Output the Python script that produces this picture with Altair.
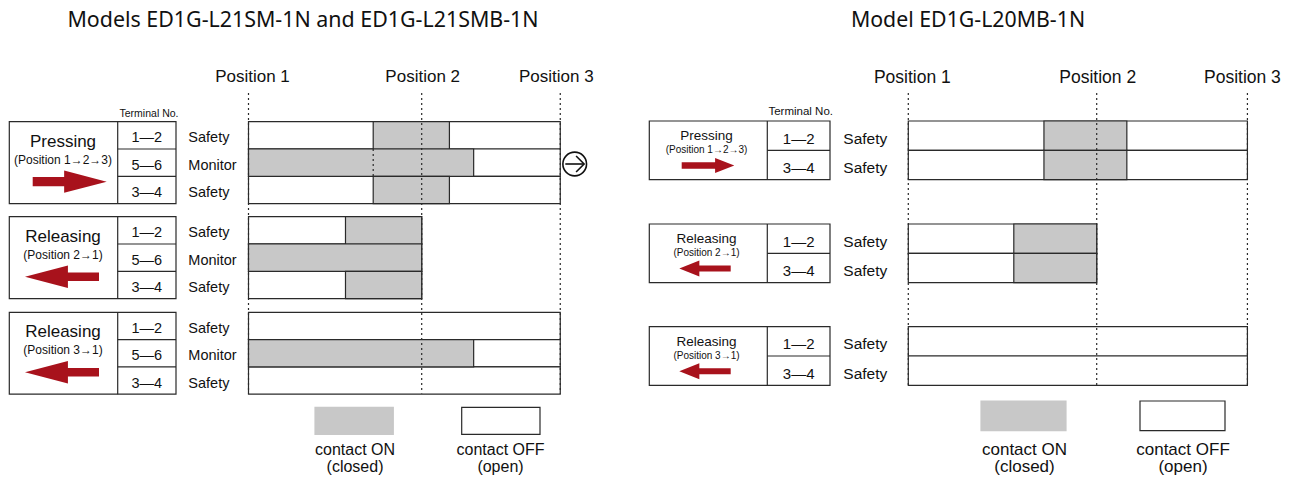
import altair as alt
import pandas as pd

# ------------------------------------------------------------------ data
LEFT_TITLE = "Models ED1G-L21SM-1N and ED1G-L21SMB-1N"
RIGHT_TITLE = "Model ED1G-L20MB-1N"

POSITION_LABELS = ["Position 1", "Position 2", "Position 3"]
POSITION_TRAVEL = [0.0, 5.0, 9.0]          # travel of each position (relative units)

OPERATIONS = ["Pressing", "Releasing", "Releasing"]
OPERATION_SUBS = ["(Position 1\u21922\u21923)", "(Position 2\u21921)", "(Position 3\u21921)"]
OPERATION_DIRS = ["right", "left", "left"]
OPERATION_END = [9.0, 5.0, 9.0]            # travel reached in each operation

LEFT_TERMINALS = ["1\u20142", "5\u20146", "3\u20144"]
LEFT_FUNCTIONS = ["Safety", "Monitor", "Safety"]
LEFT_ON_FROM = [[3.6, 0.0, 3.6], [2.8, 0.0, 2.8], [None, 0.0, None]]
LEFT_ON_TO = [[5.8, 6.5, 5.8], [5.0, 5.0, 5.0], [None, 6.5, None]]
LEFT_EXTRA_DOTS = [[0, 1, 3.6]]            # operation, row, travel

RIGHT_TERMINALS = ["1\u20142", "3\u20144"]
RIGHT_FUNCTIONS = ["Safety", "Safety"]
RIGHT_ON_FROM = [[3.6, 3.6], [2.8, 2.8], [None, None]]
RIGHT_ON_TO = [[5.8, 5.8], [5.0, 5.0], [None, None]]
RIGHT_EXTRA_DOTS = []

LEGEND_LINES = [["contact ON", "(closed)"], ["contact OFF", "(open)"]]
LEGEND_STATES = ["on", "off"]
TERMINAL_HEADER = "Terminal No."

# ------------------------------------------------------------------ layout / style
INK = "#2a2a2a"
GRAY = "#c8c8c8"
RED = "#a8121c"
BODY_FONT = "Liberation Sans"
TITLE_FONT = "Noto Sans"

W, H, M = 1276, 467, 8
PX_X = alt.Scale(domain=[M, M + W], nice=False, zero=False)
PX_Y = alt.Scale(domain=[M, M + H], nice=False, zero=False, reverse=True)
TEXT_DY = 1.0
ROW_TEXT_DY = 2.0

LAYOUT = {
    "left": dict(
        origin=248.5, px_per_unit=34.64, group_top=[121.7, 216.7, 312.3], row_h=27.3,
        box_x=[9.3, 117.7, 176.0], func_x=188.3, op_x=63.0,
        arrow_x={"right": 69.7, "left": 62.0}, op_dy=[19.0, 37.0, 60.0],
        op_size=17, sub_size=12, term_size=14.5, func_size=14.5,
        arrow={"right": ("M-1,-0.125L-0.15,-0.125L-0.15,-0.3L1,0L-0.15,0.3L-0.15,0.125L-1,0.125Z", 5476),
               "left": ("M1,-0.115L0.16,-0.115L0.16,-0.305L-1,0L0.16,0.305L0.16,0.115L1,0.115Z", 5476)},
        dots_y=[93.0, 393.5], title_x=303.0, title_y=20.0, title_size=21.4,
        pos_y=76.0, pos_dx=[4, 1, -4], pos_size=17,
        header=(149.0, 112.7, 10.5),
        legend_box=[[315.0, 393.3], [461.7, 540.0]], legend_y=[407.3, 434.3],
        legend_text_x=[355.0, 500.5], legend_text_y=[449.0, 466.0], legend_size=16,
        end_mark=(574.7, 164.0),
    ),
    "right": dict(
        origin=908.3, px_per_unit=37.68, group_top=[121.0, 224.0, 326.7], row_h=29.3,
        box_x=[649.3, 767.3, 830.0], func_x=843.3, op_x=706.5,
        arrow_x={"right": 708.0, "left": 705.0}, op_dy=[13.8, 28.3, 44.5],
        op_size=13.5, sub_size=10, term_size=15, func_size=15.5,
        arrow={"right": ("M-1,-0.127L0.27,-0.127L0.27,-0.285L1,0L0.27,0.285L0.27,0.127L-1,0.127Z", 2767),
               "left": ("M1,-0.117L-0.22,-0.117L-0.22,-0.31L-1,0L-0.22,0.31L-0.22,0.117L1,0.117Z", 2642)},
        dots_y=[93.0, 385.5], title_x=968.0, title_y=20.0, title_size=21.3,
        pos_y=77.0, pos_dx=[4, 1, -5], pos_size=17.5,
        header=(800.7, 111.0, 11.5),
        legend_box=[[981.0, 1066.0], [1140.0, 1225.0]], legend_y=[401.0, 430.7],
        legend_text_x=[1024.5, 1183.0], legend_text_y=[448.5, 466.0], legend_size=17,
        end_mark=None,
    ),
}

frame_rects, frame_rules, texts, arrows, marks = [], [], [], [], []


def build_panel(side, title, terminals, functions, on_from, on_to, extra_dots):
    L = LAYOUT[side]
    n = len(terminals)
    h = L["row_h"]
    x0, xd, x1 = L["box_x"]
    white_cells, gray_cells, dots = [], [], []

    texts.append(dict(x=L["title_x"], y=L["title_y"], text=title, size=L["title_size"], align="center", font=TITLE_FONT))
    hx, hy, hs = L["header"]
    texts.append(dict(x=hx, y=hy, text=TERMINAL_HEADER, size=hs, align="center", font=BODY_FONT))

    for g in range(3):
        top = L["group_top"][g]
        bottom = top + n * h
        frame_rects.append(dict(x=x0, x2=x1, y=top, y2=bottom, fill="white", stroke=INK))
        frame_rules.append(dict(x=xd, x2=xd, y=top, y2=bottom))
        for r in range(1, n):
            frame_rules.append(dict(x=xd, x2=x1, y=top + r * h, y2=top + r * h))
        d1, d2, d3 = L["op_dy"]
        texts.append(dict(x=L["op_x"], y=top + d1, text=OPERATIONS[g], size=L["op_size"], align="center", font=BODY_FONT))
        texts.append(dict(x=L["op_x"], y=top + d2, text=OPERATION_SUBS[g], size=L["sub_size"], align="center", font=BODY_FONT))
        path, size = L["arrow"][OPERATION_DIRS[g]]
        arrows.append(dict(x=L["arrow_x"][OPERATION_DIRS[g]], y=top + d3, shape=path, size=size))
        for r in range(n):
            yc = top + (r + 0.5) * h + ROW_TEXT_DY
            texts.append(dict(x=(xd + x1) / 2, y=yc, text=terminals[r], size=L["term_size"], align="center", font=BODY_FONT))
            texts.append(dict(x=L["func_x"], y=yc, text=functions[r], size=L["func_size"], align="left", font=BODY_FONT))
            white_cells.append(dict(t=0.0, t2=OPERATION_END[g], y=top + r * h, y2=top + (r + 1) * h, fill="white"))
            if on_from[g][r] is not None:
                gray_cells.append(dict(t=on_from[g][r], t2=on_to[g][r], y=top + r * h, y2=top + (r + 1) * h, fill=GRAY))

    for t in POSITION_TRAVEL:
        dots.append(dict(t=t, y=L["dots_y"][0], y2=L["dots_y"][1]))
    for g, r, t in extra_dots:
        top = L["group_top"][g]
        dots.append(dict(t=t, y=top + r * h, y2=top + (r + 1) * h))

    # legend
    for i, state in enumerate(LEGEND_STATES):
        bx0, bx1 = L["legend_box"][i]
        frame_rects.append(dict(x=bx0, x2=bx1, y=L["legend_y"][0], y2=L["legend_y"][1],
                                fill=GRAY if state == "on" else "white",
                                stroke=GRAY if state == "on" else INK))
        for j, line in enumerate(LEGEND_LINES[i]):
            texts.append(dict(x=L["legend_text_x"][i], y=L["legend_text_y"][j], text=line,
                              size=L["legend_size"], align="center", font=BODY_FONT))

    if L["end_mark"] is not None:
        mx, my = L["end_mark"]
        marks.append(dict(x=mx, y=my, shape="circle", size=560))
        marks.append(dict(x=mx, y=my, shape="M-0.8,0L0.8,0", size=552))
        marks.append(dict(x=mx, y=my, shape="M0.12,-0.68L0.8,0L0.12,0.68", size=552))

    o, k = L["origin"], L["px_per_unit"]
    ts = alt.Scale(domain=[(M - o) / k, (M + W - o) / k], nice=False, zero=False)
    cells = pd.DataFrame(white_cells + gray_cells)
    layers = [
        alt.Chart(cells).mark_rect(stroke=INK, strokeWidth=1.2).encode(
            x=alt.X("t:Q", scale=ts, axis=None), x2="t2:Q",
            y=alt.Y("y:Q", scale=PX_Y, axis=None), y2="y2:Q",
            fill=alt.Fill("fill:N", scale=None),
        ),
        alt.Chart(pd.DataFrame(dots)).mark_rule(
            stroke=INK, strokeWidth=1.2, strokeDash=[2, 3]).encode(
            x=alt.X("t:Q", scale=ts, axis=None),
            y=alt.Y("y:Q", scale=PX_Y, axis=None), y2="y2:Q",
        ),
    ]
    for k_, (t, lab) in enumerate(zip(POSITION_TRAVEL, POSITION_LABELS)):
        layers.append(
            alt.Chart(pd.DataFrame([dict(t=t, y=L["pos_y"] + TEXT_DY, text=lab)])).mark_text(
                font=BODY_FONT, fontSize=L["pos_size"], color="#111", baseline="middle",
                align="center", dx=L["pos_dx"][k_]).encode(
                x=alt.X("t:Q", scale=ts, axis=None),
                y=alt.Y("y:Q", scale=PX_Y, axis=None),
                text="text:N",
            )
        )
    return alt.layer(*layers)


left_panel = build_panel("left", LEFT_TITLE, LEFT_TERMINALS, LEFT_FUNCTIONS,
                         LEFT_ON_FROM, LEFT_ON_TO, LEFT_EXTRA_DOTS)
right_panel = build_panel("right", RIGHT_TITLE, RIGHT_TERMINALS, RIGHT_FUNCTIONS,
                          RIGHT_ON_FROM, RIGHT_ON_TO, RIGHT_EXTRA_DOTS)

X = lambda f: alt.X(f, scale=PX_X, axis=None)
Y = lambda f: alt.Y(f, scale=PX_Y, axis=None)

frame_layers = [
    alt.Chart(pd.DataFrame(frame_rects)).mark_rect(strokeWidth=1.2).encode(
        x=X("x:Q"), x2="x2:Q", y=Y("y:Q"), y2="y2:Q",
        fill=alt.Fill("fill:N", scale=None), stroke=alt.Stroke("stroke:N", scale=None)),
    alt.Chart(pd.DataFrame(frame_rules)).mark_rule(stroke=INK, strokeWidth=1.2).encode(
        x=X("x:Q"), x2="x2:Q", y=Y("y:Q"), y2="y2:Q"),
    alt.Chart(pd.DataFrame(arrows)).mark_point(filled=True, fill=RED, opacity=1, strokeWidth=0).encode(
        x=X("x:Q"), y=Y("y:Q"),
        shape=alt.Shape("shape:N", scale=None), size=alt.Size("size:Q", scale=None)),
    alt.Chart(pd.DataFrame(marks)).mark_point(filled=False, stroke="#111", strokeWidth=1.6, opacity=1).encode(
        x=X("x:Q"), y=Y("y:Q"),
        shape=alt.Shape("shape:N", scale=None), size=alt.Size("size:Q", scale=None)),
]
tdf = pd.DataFrame(texts)
tdf["y"] = tdf["y"] + TEXT_DY
for (align, font), sub in tdf.groupby(["align", "font"]):
    frame_layers.append(
        alt.Chart(sub).mark_text(align=align, baseline="middle", font=font, color="#111").encode(
            x=X("x:Q"), y=Y("y:Q"), text="text:N", size=alt.Size("size:Q", scale=None)))

frame = alt.layer(*frame_layers)

chart = alt.layer(frame, left_panel, right_panel).resolve_scale(x="independent").properties(
    width=W, height=H, padding=0, autosize=alt.AutoSizeParams(type="none"),
    background="white",
).configure_view(stroke=None)

chart.save("out.html", embed_options={"renderer": "svg", "actions": False})
